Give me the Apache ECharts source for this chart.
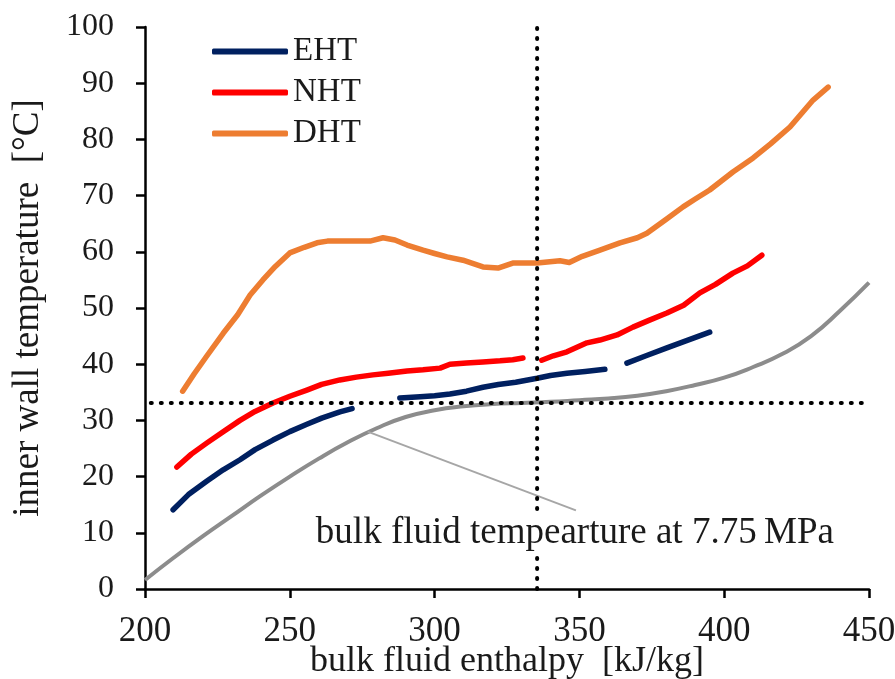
<!DOCTYPE html>
<html>
<head>
<meta charset="utf-8">
<script src="https://cdn.jsdelivr.net/npm/echarts@6/dist/echarts.min.js"></script>
<style>html,body{margin:0;padding:0;background:#fff}#c{width:895px;height:679px}</style>
</head>
<body>
<div id="c"></div>
<script>
const FONT = "'Liberation Serif','Times New Roman',serif";

const xTicks = [200, 250, 300, 350, 400, 450];
const yTicks = [0, 10, 20, 30, 40, 50, 60, 70, 80, 90, 100];

const bulkTemp = [[200,1.6],[210,5.6],[220,9.4],[230,13],[240,16.6],[250,20],[260,23.2],[270,26.1],[280,28.6],[290,30.6],[300,31.8],[310,32.5],[320,32.9],[330,33.1],[340,33.3],[350,33.6],[360,33.9],[370,34.4],[380,35.2],[390,36.3],[400,37.6],[410,39.5],[420,41.8],[430,45],[440,49.5],[450,54.5]];

const eht = [[209.7,14.1],[215,16.8],[221.4,19.2],[227,21.2],[232.8,23],[238,24.8],[244.2,26.5],[250,28],[255.9,29.3],[261,30.4],[267.3,31.5],[271.5,32.1],
  [280,'-'],
  [288,34],[295,34.2],[300,34.4],[305.3,34.7],[311,35.2],[316.7,35.9],[322,36.4],[328,36.8],[335.4,37.5],[340,38],[345.7,38.4],[352,38.7],[358.8,39.1],
  [362,'-'],
  [366.4,40.2],[373,41.5],[380.2,42.9],[387,44.2],[395,45.7]];

const nht = [[211,21.7],[216,24],[221.4,26],[227,28],[232.8,30],[238,31.6],[244.2,33.1],[250,34.3],[255.9,35.4],[261,36.4],[267.3,37.2],[273,37.7],[278.7,38.1],[284,38.4],[290.5,38.8],[296,39],[301.9,39.3],[305.3,40],[311,40.2],[316.7,40.4],[322.6,40.6],[327,40.8],[330.5,41.1],
  [334,'-'],
  [337,40.7],[341,41.5],[345.7,42.2],[352.6,43.8],[357.1,44.3],[363,45.2],[368.5,46.6],[374,47.8],[380.2,49.1],[386,50.5],[391.6,52.7],[397,54.2],[403,56.2],[408,57.5],[413,59.4]];

const dht = [[213,35.2],[217,38.3],[221.4,41.5],[227,45.5],[232,48.8],[236.3,52.3],[240.7,55],[245,57.4],[250,59.8],[255,60.8],[259.4,61.6],[263,61.9],[267.3,61.9],[272,61.9],[277.7,61.9],[282.2,62.5],[286.3,62.1],[290.5,61.2],[296,60.3],[300,59.7],[304.3,59.1],[309.8,58.5],[316.7,57.3],[321.9,57.1],[327,58],[335.4,58],[343.3,58.4],[346.5,58.1],[351,59.2],[357.1,60.3],[364,61.6],[370,62.5],[373.3,63.3],[380,65.8],[385.8,68],[390,69.4],[395,71],[403,74.2],[410,76.7],[416,79.2],[422.7,82.2],[427,84.8],[430.7,87],[435.9,89.3]];

const pseudoH = [[202,33.1],[449,33.1]];
const pseudoV = [[335.4,0],[335.4,100.5]];
const leader = [[276.9,28],[348.8,14]];
const noteText = 'bulk fluid tempearture at 7.75\u2009MPa';
const notePos = [259, 10.3];

const chart = echarts.init(document.getElementById('c'), null, {renderer:'canvas'});
const dotted = {color:'#000', width:4, type:[1,9], cap:'round'};
const option = {
  animation: false,
  backgroundColor: '#fff',
  textStyle: {fontFamily: FONT},
  grid: {left:145, right:26, top:27, bottom:90, containLabel:false, outerBoundsMode:'none'},
  legend: {
    data: ['EHT','NHT','DHT'],
    orient: 'vertical', left: 207, top: 30,
    icon: 'roundRect', itemWidth: 76, itemHeight: 6, itemGap: 8,
    textStyle: {fontFamily: FONT, fontSize: 33, color:'#1a1a1a', lineHeight: 33}
  },
  xAxis: {
    type:'value', min:200, max:450, interval:50,
    name:'bulk fluid enthalpy  [kJ/kg]', nameLocation:'middle', nameGap:55, nameMoveOverlap:false,
    nameTextStyle:{fontFamily:FONT, fontSize:36, color:'#1a1a1a'},
    axisLine:{show:true, onZero:false, lineStyle:{color:'#000', width:2.5}},
    axisTick:{show:true, length:9, lineStyle:{color:'#000', width:2.5}},
    axisLabel:{fontFamily:FONT, fontSize:35, color:'#1a1a1a', margin:25, formatter: v => xTicks.includes(v) ? String(v) : ''},
    splitLine:{show:false}
  },
  yAxis: {
    type:'value', min:0, max:100, interval:10,
    name:'inner wall temperature  [°C]', nameLocation:'middle', nameGap:98, nameMoveOverlap:false,
    nameTextStyle:{fontFamily:FONT, fontSize:37, color:'#1a1a1a'},
    axisLine:{show:true, onZero:false, lineStyle:{color:'#000', width:2.5}},
    axisTick:{show:true, length:9, lineStyle:{color:'#000', width:2.5}},
    axisLabel:{fontFamily:FONT, fontSize:32, color:'#1a1a1a', margin:31, formatter: v => yTicks.includes(v) ? String(v) : ''},
    splitLine:{show:false}
  },
  series: [
    {name:'bulk', type:'line', data:bulkTemp, smooth:true, showSymbol:false, lineStyle:{color:'#8c8c8c', width:4}, z:2},
    {name:'leader', type:'line', data:leader, showSymbol:false, lineStyle:{color:'#a6a6a6', width:2}, z:2},
    {name:'EHT', type:'line', data:eht, showSymbol:false, connectNulls:false, color:'#002060', lineStyle:{color:'#002060', width:5.5, cap:'round', join:'round'}, z:3},
    {name:'NHT', type:'line', data:nht, showSymbol:false, connectNulls:false, color:'#ff0000', lineStyle:{color:'#ff0000', width:5.5, cap:'round', join:'round'}, z:3},
    {name:'DHT', type:'line', data:dht, showSymbol:false, color:'#ed7d31', lineStyle:{color:'#ed7d31', width:5.5, cap:'round', join:'round'}, z:3},
    {name:'pH', type:'line', data:pseudoH, showSymbol:false, lineStyle:dotted, z:4},
    {name:'pV', type:'line', data:pseudoV, showSymbol:false, lineStyle:dotted, z:4, clip:false}
  ]
};
chart.setOption(option);
const p = chart.convertToPixel({gridIndex:0}, notePos);
chart.setOption({
  graphic: [{
    type:'text', left: p[0], top: p[1] - 18, z: 100,
    style: {text: noteText, font: '37px ' + FONT, fill:'#1a1a1a', backgroundColor:'#fff', padding:[2,0,2,0]}
  }]
});
</script>
</body>
</html>
